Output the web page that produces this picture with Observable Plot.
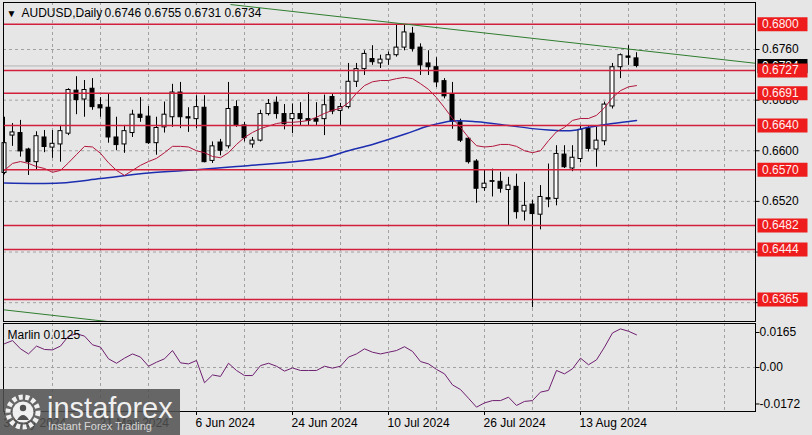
<!DOCTYPE html>
<html><head><meta charset="utf-8">
<script src="https://cdn.jsdelivr.net/npm/d3@7"></script>
<script src="https://cdn.jsdelivr.net/npm/@observablehq/plot@0.6"></script>
<style>
html,body{margin:0;padding:0;background:#e6e6e6;}
#wrap{position:relative;width:812px;height:435px;overflow:hidden;background:#e6e6e6;font-family:"Liberation Sans",Arial,sans-serif;}
#main{position:absolute;left:0;top:0;}
#osc{position:absolute;left:0;top:322px;}
#wm{position:absolute;left:0;top:389px;}
</style></head>
<body><div id="wrap"><div id="main"></div><div id="osc"></div>
<svg id="wm" width="180" height="46" font-family="Liberation Sans, Arial, sans-serif">
  <rect width="180" height="46" fill="rgb(80,80,80)" fill-opacity="0.86"/>
  <g transform="translate(23,23)">
    <circle r="15" fill="none" stroke="#fff" stroke-width="5" stroke-dasharray="4 2.6" opacity="0.9"/>
    <circle r="10.5" fill="#fff" opacity="0.9"/>
    <circle cy="-4" r="3.2" fill="rgb(80,80,80)"/>
    <path d="M-6,8 Q0,-2 6,8 Z" fill="rgb(80,80,80)"/>
  </g>
  <text x="47" y="29" font-size="29" fill="#fff" fill-opacity="0.92">instaforex</text>
  <text x="48" y="41" font-size="11" fill="#fff" fill-opacity="0.75">Instant Forex Trading</text>
</svg>
</div>
<script>
// ---------- data ----------
const symbolTitle = "AUDUSD,Daily";
const lastOHLC = "0.6746 0.6755 0.6731 0.6734";
const open = [
0.6565,0.6624,0.6628,0.6602,0.6582,0.6621,0.6605,0.6610,0.6627,0.6695,
0.6681,0.6698,0.6672,0.6668,0.6621,0.6610,0.6628,0.6657,0.6654,0.6612,
0.6637,0.6653,0.6692,0.6653,0.6650,0.6668,0.6584,0.6613,0.6607,0.6669,
0.6640,0.6610,0.6616,0.6658,0.6676,0.6658,0.6650,0.6658,0.6650,0.6650,
0.6650,0.6685,0.6663,0.6669,0.6709,0.6729,0.6745,0.6738,0.6744,0.6751,
0.6763,0.6785,0.6763,0.6738,0.6732,0.6710,0.6689,0.6645,0.6619,0.6583,
0.6541,0.6552,0.6551,0.6538,0.6543,0.6504,0.6515,0.6499,0.6525,0.6524,
0.6594,0.6572,0.6587,0.6635,0.6602,0.6615,0.6670,0.6732,0.6749,0.6746];
const high = [
0.6653,0.6643,0.6648,0.6604,0.6630,0.6632,0.6632,0.6640,0.6698,0.6717,
0.6711,0.6714,0.6684,0.6689,0.6653,0.6640,0.6664,0.6684,0.6670,0.6653,
0.6677,0.6705,0.6708,0.6668,0.6687,0.6687,0.6614,0.6618,0.6708,0.6679,
0.6645,0.6621,0.6664,0.6681,0.6685,0.6673,0.6674,0.6676,0.6692,0.6676,
0.6688,0.6689,0.6675,0.6738,0.6738,0.6758,0.6766,0.6751,0.6756,0.6800,
0.6798,0.6795,0.6769,0.6758,0.6747,0.6714,0.6708,0.6650,0.6621,0.6586,
0.6570,0.6571,0.6566,0.6558,0.6563,0.6550,0.6522,0.6545,0.6579,0.6608,
0.6608,0.6608,0.6640,0.6640,0.6637,0.6677,0.6738,0.6753,0.6766,0.6755];
const low = [
0.6562,0.6607,0.6590,0.6561,0.6570,0.6597,0.6588,0.6582,0.6624,0.6657,
0.6653,0.6664,0.6653,0.6612,0.6600,0.6596,0.6621,0.6645,0.6610,0.6593,
0.6628,0.6637,0.6635,0.6629,0.6635,0.6581,0.6580,0.6592,0.6603,0.6637,
0.6614,0.6604,0.6614,0.6655,0.6650,0.6633,0.6627,0.6640,0.6640,0.6640,
0.6624,0.6657,0.6640,0.6666,0.6700,0.6719,0.6735,0.6730,0.6735,0.6748,
0.6758,0.6756,0.6719,0.6719,0.6700,0.6682,0.6634,0.6613,0.6579,0.6517,
0.6536,0.6527,0.6533,0.6482,0.6492,0.6489,0.6352,0.6475,0.6510,0.6513,
0.6572,0.6567,0.6581,0.6598,0.6574,0.6608,0.6666,0.6714,0.6735,0.6731];
const close = [
0.6612,0.6629,0.6599,0.6582,0.6623,0.6606,0.6611,0.6631,0.6696,0.6680,
0.6696,0.6669,0.6667,0.6621,0.6609,0.6631,0.6657,0.6652,0.6612,0.6636,
0.6657,0.6692,0.6653,0.6651,0.6669,0.6582,0.6607,0.6600,0.6666,0.6640,
0.6620,0.6616,0.6658,0.6674,0.6658,0.6642,0.6658,0.6650,0.6647,0.6646,
0.6672,0.6662,0.6669,0.6709,0.6729,0.6753,0.6740,0.6744,0.6751,0.6763,
0.6787,0.6761,0.6735,0.6732,0.6708,0.6686,0.6646,0.6616,0.6582,0.6540,
0.6548,0.6551,0.6540,0.6545,0.6503,0.6513,0.6500,0.6527,0.6523,0.6595,
0.6574,0.6589,0.6633,0.6603,0.6616,0.6673,0.6732,0.6751,0.6747,0.6734];
const redMA = [
0.6569,0.6580,0.6583,0.6580,0.6575,0.6572,0.6566,0.6569,0.6581,0.6594,
0.6607,0.6606,0.6596,0.6581,0.6569,0.6561,0.6569,0.6577,0.6583,0.6588,
0.6597,0.6607,0.6607,0.6606,0.6600,0.6597,0.6591,0.6589,0.6597,0.6610,
0.6621,0.6629,0.6635,0.6639,0.6643,0.6645,0.6645,0.6646,0.6648,0.6653,
0.6659,0.6664,0.6667,0.6676,0.6691,0.6703,0.6709,0.6711,0.6711,0.6714,
0.6716,0.6714,0.6706,0.6697,0.6684,0.6668,0.6651,0.6637,0.6621,0.6608,
0.6606,0.6607,0.6610,0.6610,0.6607,0.6600,0.6597,0.6600,0.6616,0.6630,
0.6637,0.6648,0.6651,0.6651,0.6656,0.6668,0.6684,0.6695,0.6701,0.6703];
const blueBars = [0,7,12,18,24,29,33,37,40,43,46,50,53,56,59,63,66,68,71,73,76,79];
const blueMA = [0.6549,0.6549,0.6556,0.6565,0.6570,0.6575,0.6579,0.6584,0.6589,0.6600,0.6610,
                0.6626,0.6639,0.6647,0.6646,0.6640,0.6635,0.6633,0.6632,0.6637,0.6643,0.6648];
const trendUpperBars = [28.3, 94.05];
const trendUpperPrice = [0.6831, 0.6738];
const trendLowerBars = [-1, 20];
const trendLowerPrice = [0.6350, 0.6320];
const levels = [0.6800, 0.6727, 0.6691, 0.6640, 0.6570, 0.6482, 0.6444, 0.6365];
const bidPrice = 0.6734;
const priceTicks = [0.6760, 0.6680, 0.6600, 0.6520, 0.6440, 0.6360];
const marlin = [
0.0112,0.0127,0.0088,0.0064,0.0101,0.0085,0.0083,0.0101,0.0148,0.0159,
0.0148,0.0107,0.0096,0.0041,0.0020,0.0044,0.0064,0.0049,0.0006,0.0025,
0.0041,0.0080,0.0022,0.0017,0.0033,-0.0072,-0.0035,-0.0042,0.0020,-0.0014,
-0.0038,-0.0038,0.0009,0.0020,0.0006,-0.0017,-0.0002,-0.0014,-0.0014,-0.0014,
0.0006,-0.0003,0.0006,0.0049,0.0064,0.0088,0.0072,0.0064,0.0072,0.0080,
0.0098,0.0076,0.0028,0.0017,-0.0009,-0.0030,-0.0082,-0.0104,-0.0145,-0.0187,
-0.0167,-0.0156,-0.0156,-0.0140,-0.0179,-0.0160,-0.0156,-0.0116,-0.0108,-0.0014,
-0.0030,-0.0006,0.0044,0.0013,0.0036,0.0096,0.0163,0.0182,0.0171,0.0154];
const marlinLabel = "Marlin 0.0125";
const oscTicks = [0.0165, 0, -0.0172];
const oscTickLabels = ["0.0165", "0.00", "-0.0172"];
const labelBars = [0, 12, 24, 36, 48, 60, 72];
const dateLabels = ["3 May 2024","21 May 2024","6 Jun 2024","24 Jun 2024","10 Jul 2024","26 Jul 2024","13 Aug 2024"];
const gridBars = [6,12,18,24,30,36,42,48,54,60,66,72,78,84,90];

// ---------- layout helpers ----------
const kAt = px => (px - 4) / 8;           // pixel x -> bar units
const X_DOMAIN = [kAt(3), kAt(755)];
const PPU = 6328.7;                         // px per price unit (main)
const Y_MAX = 0.6800 + 21.7 / PPU, Y_MIN = 0.6800 - 297.3 / PPU;
const OSC_PPU = 2121, OSC_M = 44 / OSC_PPU;
const FONT = "Liberation Sans, Arial, sans-serif";
const GRID = {stroke: "#a2a2a2", strokeDasharray: "3,3", strokeWidth: 1};
const LAB0 = kAt(757), LAB1 = kAt(807), LABT = kAt(761.5), TICK0 = kAt(755), TICK1 = kAt(759);

const bars = open.map((o, i) => ({k: i, open: o, high: high[i], low: low[i], close: close[i]}));
const red = redMA.map((v, i) => ({k: i, v}));
const blue = blueBars.map((k, i) => ({k, v: blueMA[i]}));
const g1 = trendUpperBars.map((k, i) => ({k, v: trendUpperPrice[i]}));
const g2 = trendLowerBars.map((k, i) => ({k, v: trendLowerPrice[i]}));
const osc = marlin.map((v, i) => ({k: i, v}));
const fmt4 = d3.format(".4f");
// tick labels fully covered by a level's price box are not drawn (as in MT4)
const shownTicks = priceTicks.filter(t => !levels.some(l => Math.abs(l - t) < 0.0009));

const main = Plot.plot({
  width: 812, height: 323, marginLeft: 3, marginRight: 57, marginTop: 2, marginBottom: 2,
  x: {domain: X_DOMAIN, axis: null},
  y: {domain: [Y_MIN, Y_MAX], axis: null},
  style: {background: "transparent", fontFamily: FONT, fontSize: "12px", color: "black", overflow: "visible"},
  marks: [
    Plot.ruleX(gridBars, GRID),
    Plot.ruleY(priceTicks, GRID),
    Plot.ruleY([bidPrice], {stroke: "#b4b4b4"}),
    Plot.ruleX(bars, {x: "k", y1: "low", y2: "high", stroke: "black"}),
    Plot.rect(bars, {x1: d => d.k - 0.25, x2: d => d.k + 0.25, y1: "open", y2: "close",
      fill: d => d.close >= d.open ? "white" : "black", stroke: "black", strokeWidth: 1}),
    Plot.line(blue, {x: "k", y: "v", stroke: "#1d2db0", strokeWidth: 1.5, curve: "catmull-rom"}),
    Plot.line(red, {x: "k", y: "v", stroke: "#b3163c", strokeWidth: 1}),
    Plot.ruleY(levels, {stroke: "#d21f3c", strokeWidth: 1.5}),
    Plot.line(g1, {x: "k", y: "v", stroke: "#2f7d2f", strokeWidth: 1, clip: true}),
    Plot.line(g2, {x: "k", y: "v", stroke: "#2f7d2f", strokeWidth: 1, clip: true}),
    Plot.frame({stroke: "black"}),
    Plot.text(["\u25BC"], {frameAnchor: "top-left", dx: 8, dy: 11, text: d => d, fontSize: 10, textAnchor: "middle", lineAnchor: "middle"}),
    Plot.text([symbolTitle], {frameAnchor: "top-left", dx: 18, dy: 11, text: d => d, fontSize: 12, textAnchor: "start", lineAnchor: "middle"}),
    Plot.text([lastOHLC], {frameAnchor: "top-left", dx: 101, dy: 11, text: d => d, fontSize: 12, textAnchor: "start", lineAnchor: "middle"}),
    Plot.link(priceTicks, {x1: TICK0, x2: TICK1, y1: d => d, y2: d => d, stroke: "black"}),
    Plot.text(shownTicks, {x: LABT, y: d => d, text: d => fmt4(d), fontSize: 12, textAnchor: "start", lineAnchor: "middle", fill: "black"}),
    Plot.link([bidPrice], {x1: LAB0, x2: LAB1, y1: d => d, y2: d => d, stroke: "black", strokeWidth: 14}),
    Plot.text([bidPrice], {x: LABT, y: d => d, text: d => fmt4(d), fontSize: 12, textAnchor: "start", lineAnchor: "middle", fill: "white"}),
    Plot.link(levels, {x1: LAB0, x2: LAB1, y1: d => d, y2: d => d, stroke: "#ee1c1c", strokeWidth: 14}),
    Plot.text(levels, {x: LABT, y: d => d, text: d => fmt4(d), fontSize: 12, textAnchor: "start", lineAnchor: "middle", fill: "#fff0f0"})
  ]
});
document.getElementById("main").appendChild(main);

const oscPlot = Plot.plot({
  width: 812, height: 113, marginLeft: 3, marginRight: 57, marginTop: 1, marginBottom: 24,
  x: {domain: X_DOMAIN, axis: null},
  y: {domain: [-OSC_M, OSC_M], axis: null},
  style: {background: "transparent", fontFamily: FONT, fontSize: "12px", color: "black", overflow: "visible"},
  marks: [
    Plot.ruleX(gridBars, GRID),
    Plot.ruleY([0], GRID),
    Plot.line(osc, {x: "k", y: "v", stroke: "#6e2070", strokeWidth: 1}),
    Plot.frame({stroke: "black"}),
    Plot.text([marlinLabel], {frameAnchor: "top-left", dx: 4, dy: 12, text: d => d, fontSize: 12, textAnchor: "start", lineAnchor: "middle"}),
    Plot.link(oscTicks, {x1: TICK0, x2: TICK1, y1: d => d, y2: d => d, stroke: "black"}),
    Plot.text(oscTicks, {x: kAt(759), y: d => d, text: (d, i) => oscTickLabels[i], fontSize: 12, textAnchor: "start", lineAnchor: "middle"}),
    Plot.ruleX(labelBars, {y1: -OSC_M, y2: -OSC_M - 4 / OSC_PPU, stroke: "black"}),
    Plot.text(labelBars, {x: d => d, frameAnchor: "bottom", dy: 12, dx: -1, text: (d, i) => dateLabels[i], fontSize: 12, textAnchor: "start", lineAnchor: "middle"})
  ]
});
document.getElementById("osc").appendChild(oscPlot);
</script>
</body></html>
